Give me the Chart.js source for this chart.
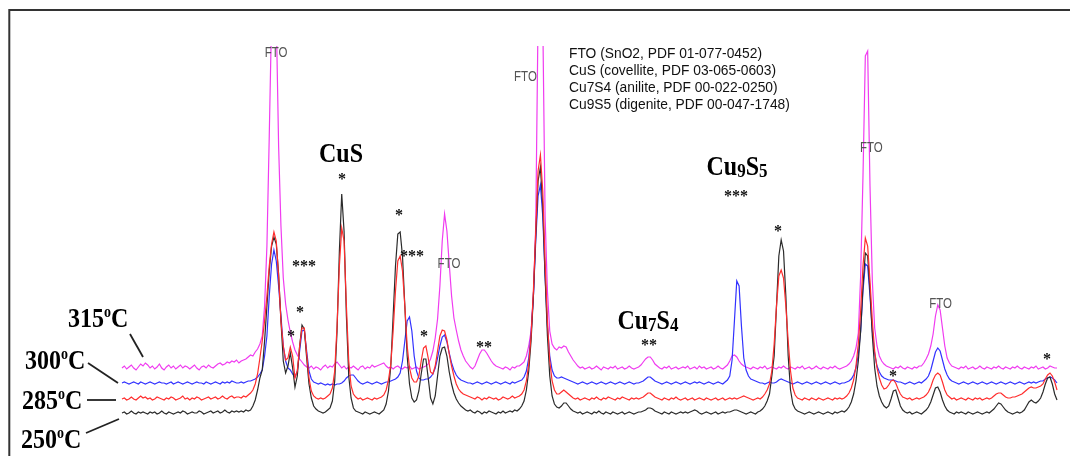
<!DOCTYPE html>
<html><head><meta charset="utf-8">
<script src="https://cdn.jsdelivr.net/npm/chart.js@4.4.1/dist/chart.umd.min.js"></script>
<style>html,body{margin:0;padding:0;background:#fff;overflow:hidden}canvas{display:block}</style>
</head><body>
<canvas id="c" width="1070" height="456"></canvas>
<script>
// 2-theta grid (degrees)
const twoTheta = [
20,20.1,20.2,20.3,20.4,20.5,20.6,20.7,20.8,20.9,
21,21.1,21.2,21.3,21.4,21.5,21.6,21.7,21.8,21.9,
22,22.1,22.2,22.3,22.4,22.5,22.6,22.7,22.8,22.9,
23,23.1,23.2,23.3,23.4,23.5,23.6,23.7,23.8,23.9,
24,24.1,24.2,24.3,24.4,24.5,24.6,24.7,24.8,24.9,
25,25.1,25.2,25.3,25.4,25.5,25.6,25.7,25.8,25.9,
26,26.1,26.2,26.3,26.4,26.5,26.6,26.7,26.8,26.9,
27,27.1,27.2,27.3,27.4,27.5,27.6,27.7,27.8,27.9,
28,28.1,28.2,28.3,28.4,28.5,28.6,28.7,28.8,28.9,
29,29.1,29.2,29.3,29.4,29.5,29.6,29.7,29.8,29.9,
30,30.1,30.2,30.3,30.4,30.5,30.6,30.7,30.8,30.9,
31,31.1,31.2,31.3,31.4,31.5,31.6,31.7,31.8,31.9,
32,32.1,32.2,32.3,32.4,32.5,32.6,32.7,32.8,32.9,
33,33.1,33.2,33.3,33.4,33.5,33.6,33.7,33.8,33.9,
34,34.1,34.2,34.3,34.4,34.5,34.6,34.7,34.8,34.9,
35,35.1,35.2,35.3,35.4,35.5,35.6,35.7,35.8,35.9,
36,36.1,36.2,36.3,36.4,36.5,36.6,36.7,36.8,36.9,
37,37.1,37.2,37.3,37.4,37.5,37.6,37.7,37.8,37.9,
38,38.1,38.2,38.3,38.4,38.5,38.6,38.7,38.8,38.9,
39,39.1,39.2,39.3,39.4,39.5,39.6,39.7,39.8,39.9,
40,40.1,40.2,40.3,40.4,40.5,40.6,40.7,40.8,40.9,
41,41.1,41.2,41.3,41.4,41.5,41.6,41.7,41.8,41.9,
42,42.1,42.2,42.3,42.4,42.5,42.6,42.7,42.8,42.9,
43,43.1,43.2,43.3,43.4,43.5,43.6,43.7,43.8,43.9,
44,44.1,44.2,44.3,44.4,44.5,44.6,44.7,44.8,44.9,
45,45.1,45.2,45.3,45.4,45.5,45.6,45.7,45.8,45.9,
46,46.1,46.2,46.3,46.4,46.5,46.6,46.7,46.8,46.9,
47,47.1,47.2,47.3,47.4,47.5,47.6,47.7,47.8,47.9,
48,48.1,48.2,48.3,48.4,48.5,48.6,48.7,48.8,48.9,
49,49.1,49.2,49.3,49.4,49.5,49.6,49.7,49.8,49.9,
50,50.1,50.2,50.3,50.4,50.5,50.6,50.7,50.8,50.9,
51,51.1,51.2,51.3,51.4,51.5,51.6,51.7,51.8,51.9,
52,52.1,52.2,52.3,52.4,52.5,52.6,52.7,52.8,52.9,
53,53.1,53.2,53.3,53.4,53.5,53.6,53.7,53.8,53.9,
54,54.1,54.2,54.3,54.4,54.5,54.6,54.7,54.8,54.9,
55,55.1,55.2,55.3,55.4,55.5,55.6,55.7,55.8,55.9,
56,56.1,56.2,56.3,56.4,56.5,56.6,56.7,56.8,56.9,
57,57.1,57.2,57.3,57.4,57.5,57.6,57.7,57.8,57.9,
58,58.1,58.2,58.3,58.4,58.5,58.6,58.7,58.8,58.9,
59,59.1,59.2,59.3,59.4,59.5,59.6,59.7,59.8,59.9,
60];

// intensities (a.u., stacked offsets as plotted)
const I250 = [
43,44,42,43,45,43,42,44,43,44,
43,42,44,43,44,42,43,45,43,42,
44,43,42,43,44,43,45,44,42,43,
44,43,43,45,44,42,43,44,45,43,
44,45,43,44,46,44,43,45,44,45,
44,45,44,46,45,46,50,56,66,78,
86,115,150,185,210,219,212,182,135,95,
83,90,103,88,69,80,110,131,127,98,
72,58,50,47,45,44,43,44,46,48,
55,75,125,205,262,225,140,80,58,48,
45,44,43,42,44,43,42,43,44,43,
42,44,46,52,65,90,140,190,222,224,
200,150,100,72,58,54,56,65,82,97,
97,78,58,52,60,80,100,108,109,100,
84,72,63,57,53,50,48,46,45,46,
44,43,45,44,42,44,43,45,44,43,
42,44,43,45,43,44,45,44,46,45,
47,50,55,66,85,115,160,220,275,289,
250,180,120,80,60,52,49,48,50,53,
53,50,47,45,44,43,44,42,43,44,
43,42,44,43,45,43,42,44,43,42,
44,43,42,43,44,42,43,44,43,42,
43,44,44,45,46,48,48,47,45,44,
43,42,44,43,42,44,43,42,43,44,
43,44,43,44,45,46,45,43,42,43,
44,43,42,43,44,42,43,44,43,44,
44,45,46,46,45,44,43,42,43,44,
43,42,44,45,47,50,55,62,80,100,
150,200,216,205,160,100,66,52,47,45,
44,43,42,43,44,43,42,43,44,43,
42,43,44,43,42,44,43,44,45,44,
46,49,54,62,75,95,125,170,203,200,
165,120,88,70,60,54,50,48,50,57,
65,66,58,50,46,44,43,44,42,43,
44,43,42,44,46,49,54,61,68,69,
64,56,50,46,44,43,42,44,43,44,
43,42,44,43,42,43,44,43,42,43,
44,43,45,47,50,53,52,49,46,44,
43,42,43,44,43,44,46,50,54,56,
54,53,55,58,64,72,78,79,72,62,
56];

const I285 = [
57,58,56,57,59,57,56,58,60,58,
59,57,58,56,57,59,58,57,56,58,
57,59,58,56,57,58,60,57,58,56,
58,57,59,58,56,57,58,59,57,58,
59,57,58,60,58,57,59,60,58,59,
59,58,60,59,61,63,66,72,82,98,
115,135,160,190,212,224,215,180,135,110,
96,98,109,100,78,85,110,128,128,102,
78,65,60,58,57,58,57,58,60,62,
68,85,130,190,228,215,150,95,70,62,
59,57,58,56,57,58,57,56,58,57,
58,59,61,66,76,92,125,165,195,200,
185,150,110,88,78,74,74,80,95,108,
110,98,84,82,90,105,120,126,125,116,
102,90,80,72,67,64,62,61,60,59,
58,57,59,58,56,58,57,59,58,57,
58,56,57,59,58,57,58,60,58,59,
60,62,66,75,92,120,165,225,285,301,
265,195,135,95,75,66,62,62,64,66,
64,62,60,58,57,58,56,57,58,57,
56,58,57,59,57,56,58,57,59,58,
57,56,58,57,59,58,57,56,58,57,
58,57,58,59,61,63,63,61,59,58,
57,56,58,57,56,58,57,59,57,56,
57,58,56,57,58,56,57,58,57,56,
58,57,56,57,58,56,57,58,56,57,
58,57,58,57,58,59,60,59,58,57,
56,57,58,57,59,62,66,72,85,112,
150,180,186,178,150,115,85,68,61,58,
57,56,58,57,56,58,57,56,58,57,
56,57,58,57,56,58,57,58,57,58,
60,63,68,76,90,112,145,190,218,210,
175,135,105,88,78,71,67,68,71,75,
76,73,67,62,59,58,57,58,56,57,
58,57,58,59,61,64,69,76,81,83,
81,74,66,61,59,57,58,56,57,58,
57,56,58,57,56,58,57,58,56,57,
58,57,58,60,62,63,63,61,59,58,
58,59,59,60,61,62,64,66,68,69,
68,68,69,70,72,77,81,83,80,74,
66];

const I300 = [
73,74,73,72,73,74,73,72,74,73,
72,73,74,73,72,73,74,73,73,72,
73,74,72,73,74,73,72,73,74,73,
72,73,74,73,73,72,74,73,72,73,
74,73,72,74,73,74,73,75,74,73,
73,74,73,74,75,75,76,77,79,82,
86,100,120,160,192,206,195,170,140,110,
95,88,86,82,79,85,105,125,126,105,
85,77,74,73,72,73,72,71,72,71,
72,71,72,72,73,75,78,80,81,81,
78,75,73,72,73,74,73,72,73,74,
73,72,73,74,74,75,76,77,79,83,
95,115,135,139,125,100,85,78,76,76,
77,77,79,82,88,98,110,119,121,114,
103,93,86,81,78,76,75,74,73,73,
72,73,74,73,72,73,74,73,72,73,
74,73,72,73,74,73,72,74,73,74,
75,76,79,85,98,122,160,215,260,271,
240,180,130,100,86,80,78,78,79,78,
77,76,75,74,73,72,73,74,73,72,
73,74,73,72,73,74,73,72,73,74,
73,72,73,74,73,72,73,74,73,72,
73,73,74,75,77,79,79,77,75,74,
73,72,73,74,73,72,73,74,73,72,
73,74,73,72,73,74,73,74,73,72,
73,74,73,72,73,74,73,72,74,76,
80,96,135,175,170,130,98,86,80,77,
76,75,74,73,73,72,73,74,73,73,
74,76,77,76,75,74,73,72,73,74,
73,72,73,74,73,72,73,74,73,72,
73,74,73,72,73,74,73,72,73,73,
74,75,77,81,88,102,125,165,192,190,
160,125,102,90,84,80,78,77,76,76,
76,75,74,74,73,72,73,74,73,72,
73,74,73,75,77,80,86,95,104,108,
105,96,87,81,77,75,74,73,72,73,
74,73,72,73,74,73,72,73,74,73,
72,73,74,73,72,73,74,73,72,73,
74,73,72,73,74,73,72,73,74,73,
74,73,74,75,75,77,78,79,78,76,
73];

const I315 = [
88,90,87,89,91,88,86,89,92,90,
93,91,88,90,87,89,92,88,86,89,
91,88,90,87,89,91,88,90,89,87,
89,91,88,86,89,90,88,91,89,88,
90,92,93,91,92,94,93,95,94,96,
93,95,96,97,99,101,100,104,107,112,
120,150,210,320,440,620,440,310,230,178,
152,136,124,114,106,101,97,94,91,89,
88,90,87,89,88,86,89,91,88,90,
89,92,94,91,88,90,87,89,88,90,
88,86,89,90,87,89,88,91,89,90,
91,92,93,90,88,89,87,89,90,88,
87,89,88,90,87,88,89,87,88,89,
90,92,97,105,118,137,170,215,242,225,
192,160,138,126,115,106,100,95,92,89,
87,90,96,102,106,106,103,99,95,92,
90,89,88,87,89,88,86,89,88,90,
90,92,94,100,110,125,160,230,440,650,
440,240,165,125,112,108,106,109,108,110,
109,104,100,96,93,90,88,89,87,88,
89,87,88,90,88,86,89,88,87,89,
88,90,87,88,89,87,88,90,88,87,
88,89,91,94,97,99,99,96,92,90,
88,87,89,88,90,87,88,89,87,88,
89,88,90,87,88,89,87,90,88,89,
87,88,89,87,88,90,88,87,89,91,
95,100,101,99,95,92,90,89,88,87,
89,88,87,89,88,90,87,88,89,88,
87,89,88,90,88,87,89,88,87,89,
88,90,87,88,89,87,88,90,88,87,
89,88,87,89,88,90,88,87,88,89,
90,92,95,100,108,123,180,280,400,405,
270,175,128,110,100,95,92,90,89,88,
87,89,88,90,88,87,89,88,87,89,
88,90,90,93,97,102,110,122,140,151,
146,128,110,98,93,90,89,88,87,89,
88,90,87,88,89,87,88,90,88,87,
89,88,87,89,88,90,88,87,89,88,
87,89,88,90,88,87,89,88,87,89,
88,90,87,88,89,87,88,90,89,88,
88];

const seriesNames = ['250°C','285°C','300°C','315°C'];
const seriesColors = ['#2b2b2b','#ff2d2d','#3232ff','#f03cf0'];

// annotations in data units (2θ, intensity)
const starMarks = [
  [29.41,280,'*'],[27.79,193,'***'],[27.61,147,'*'],[27.23,123,'*'],
  [31.85,244,'*'],[32.41,203,'***'],[32.92,123,'*'],[35.49,112,'**'],
  [42.55,114,'**'],[46.27,263,'***'],[48.06,228,'*'],[52.98,83,'*'],[59.57,100,'*']
];
const ftoMarks = [[26.59,399],[37.26,375],[52.06,304],[33.99,188],[55.02,148]];
const phaseMarks = [
  [29.37,294,[['Cu',0],['S',0]]],
  [46.31,281,[['Cu',0],['9',1],['S',0],['5',1]]],
  [42.50,127,[['Cu',0],['7',1],['S',0],['4',1]]]
];
const legendLines = [
  'FTO (SnO2, PDF 01-077-0452)',
  'CuS (covellite, PDF 03-065-0603)',
  'Cu7S4 (anilite, PDF 00-022-0250)',
  'Cu9S5 (digenite, PDF 00-047-1748)'
];
const tempLabels = ['315','300','285','250'];

const layoutCfg = {
  temp: [[68,327],[25,369],[22,409],[21,448]],
  leaders: [[130,334,143,357],[88,363,118,383],[87,400,116,400],[86,433,119,419]],
  legendX: 569, legendY: [57.5,74.8,92,109.3]
};

const annotPlugin = {
  id: 'annot',
  afterDraw(chart) {
    const ctx = chart.ctx, xs = chart.scales.x, ys = chart.scales.y;
    const X = t => xs.getPixelForValue(t), Y = v => ys.getPixelForValue(v);
    ctx.save();
    // frame
    ctx.strokeStyle = '#333'; ctx.lineWidth = 2;
    ctx.beginPath(); ctx.moveTo(9.3, 456); ctx.lineTo(9.3, 10); ctx.lineTo(1070, 10); ctx.stroke();

    // legend text
    ctx.fillStyle = '#111';
    ctx.font = '13.8px "Liberation Sans", Arial, sans-serif';
    ctx.textAlign = 'left'; ctx.textBaseline = 'alphabetic';
    legendLines.forEach((s, k) => ctx.fillText(s, layoutCfg.legendX, layoutCfg.legendY[k]));

    // FTO labels
    ctx.fillStyle = '#555';
    ftoMarks.forEach(([t, v]) => {
      ctx.save(); ctx.translate(X(t), Y(v)); ctx.scale(1, 1.25);
      ctx.font = '11.5px "Liberation Sans", Arial, sans-serif'; ctx.textAlign = 'center';
      ctx.fillText('FTO', 0, 0); ctx.restore();
    });

    // stars
    ctx.fillStyle = '#111';
    ctx.font = 'bold 16px "Liberation Serif", "Times New Roman", serif';
    ctx.textAlign = 'center';
    starMarks.forEach(([t, v, s]) => ctx.fillText(s, X(t), Y(v) + 8));

    // phase labels with subscripts
    const big = 'bold 24px "Liberation Serif", "Times New Roman", serif';
    const sub = 'bold 17px "Liberation Serif", "Times New Roman", serif';
    phaseMarks.forEach(([t, v, parts]) => {
      let w = 0;
      parts.forEach(([s, k]) => { ctx.font = k ? sub : big; w += ctx.measureText(s).width; });
      ctx.save(); ctx.translate(X(t) - w / 2, Y(v)); ctx.scale(1, 1.15);
      ctx.textAlign = 'left'; ctx.fillStyle = '#000';
      let x = 0;
      parts.forEach(([s, k]) => { ctx.font = k ? sub : big; ctx.fillText(s, x, k ? 2 : 0); x += ctx.measureText(s).width; });
      ctx.restore();
    });

    // temperature labels
    const sup = 'bold 14px "Liberation Serif", "Times New Roman", serif';
    tempLabels.forEach((s, k) => {
      const [x0, y0] = layoutCfg.temp[k];
      ctx.save(); ctx.translate(x0, y0); ctx.scale(1, 1.15);
      ctx.textAlign = 'left'; ctx.fillStyle = '#000';
      let x = 0;
      ctx.font = big; ctx.fillText(s, x, 0); x += ctx.measureText(s).width;
      ctx.font = sup; ctx.fillText('o', x, -9); x += ctx.measureText('o').width;
      ctx.font = big; ctx.fillText('C', x, 0);
      ctx.restore();
    });
    ctx.strokeStyle = '#222'; ctx.lineWidth = 1.8;
    layoutCfg.leaders.forEach(([a, b, c, d]) => { ctx.beginPath(); ctx.moveTo(a, b); ctx.lineTo(c, d); ctx.stroke(); });
    ctx.restore();
  }
};

const seriesData = [I250, I285, I300, I315];
const drawOrder = [2, 1, 3, 4];
new Chart(document.getElementById('c'), {
  type: 'line',
  data: {
    datasets: seriesData.map((arr, k) => ({
      label: seriesNames[k],
      data: twoTheta.map((t, i) => ({ x: t, y: arr[i] })),
      borderColor: seriesColors[k],
      borderWidth: 1.2,
      pointRadius: 0,
      tension: 0,
      fill: false,
      order: drawOrder[k]
    }))
  },
  options: {
    responsive: false,
    devicePixelRatio: 1,
    animation: false,
    layout: { padding: { top: 46, left: 0, right: 0, bottom: 0 } },
    plugins: { legend: { display: false }, tooltip: { enabled: false } },
    scales: {
      x: { type: 'linear', min: 14.781, max: 60.556, display: false },
      y: { min: 0, max: 410, display: false }
    }
  },
  plugins: [annotPlugin]
});
</script>
</body></html>
